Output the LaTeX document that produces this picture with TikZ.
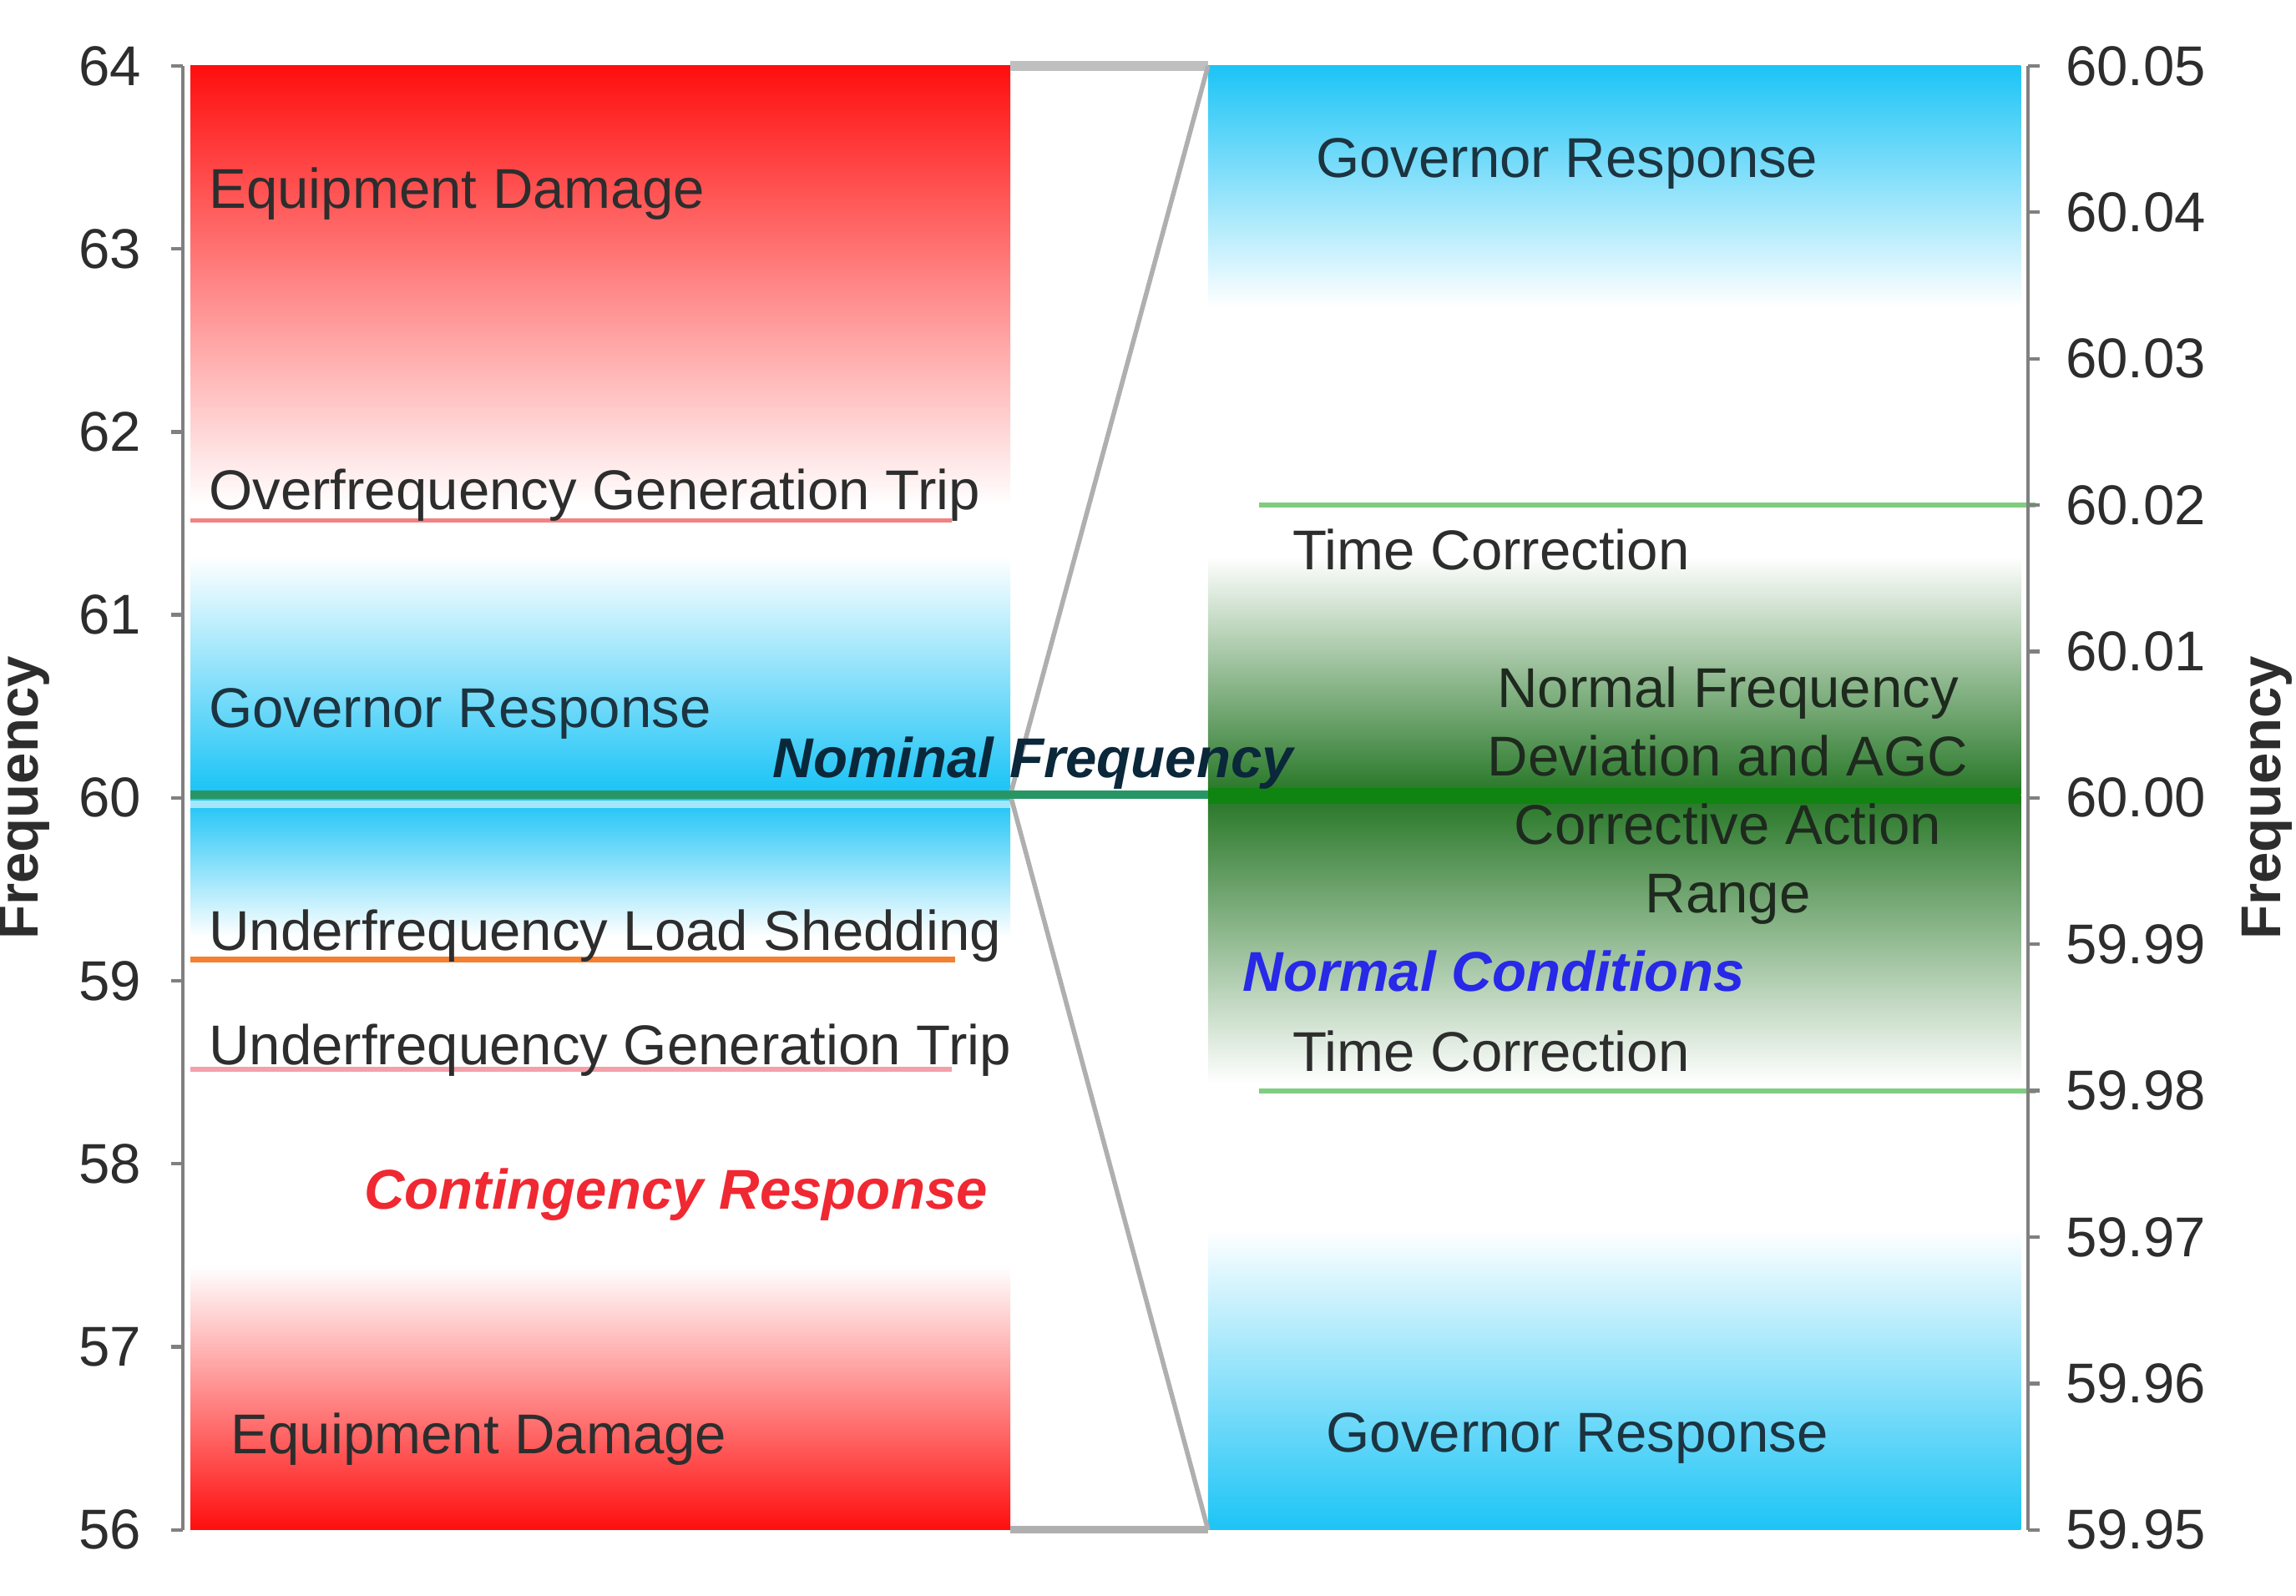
\documentclass[tikz,border=0pt]{standalone}
\usepackage{fontspec}
\setmainfont{Liberation Sans}

\definecolor{govblue}{RGB}{28,196,246}
\definecolor{dmgred}{RGB}{255,14,14}
\definecolor{agcgreen}{RGB}{38,118,38}
\definecolor{agcband}{RGB}{16,132,16}
\definecolor{agcmid}{RGB}{142,168,134}
\definecolor{nomgreen}{RGB}{40,150,100}
\definecolor{tcgreen}{RGB}{128,204,128}
\definecolor{ofred}{RGB}{242,130,130}
\definecolor{ufload}{RGB}{244,128,48}
\definecolor{ufgen}{RGB}{244,160,170}
\definecolor{txtgray}{RGB}{45,45,45}
\definecolor{govtxt}{RGB}{28,52,64}
\definecolor{axisgray}{RGB}{128,128,128}
\definecolor{zoomgray}{RGB}{175,175,175}

\begin{document}
\begin{tikzpicture}[
lbl/.style={anchor=base west, inner sep=0pt, text=txtgray, font=\fontsize{10.9}{13.3}\selectfont},
gov/.style={lbl, text=govtxt},
emph/.style={lbl, font=\fontsize{10.9}{13.3}\selectfont\bfseries\itshape},
ticklbl/.style={inner sep=0pt, text=txtgray, font=\fontsize{10.9}{13.3}\selectfont},
axislbl/.style={rotate=90, inner sep=0pt, text=txtgray, font=\fontsize{10.9}{13.3}\selectfont\bfseries},
axisline/.style={draw=axisgray, line width=0.7pt},
zoomline/.style={draw=zoomgray, line width=0.9pt}
]
\useasboundingbox (0,0) rectangle (15.68,10.90);
%Coordinates
\coordinate (ltop) at (6.90,10.45);
\coordinate (lbot) at (6.90,0.45);
\coordinate (lnom) at (6.90,5.47);
\coordinate (rtop) at (8.25,10.45);
\coordinate (rbot) at (8.25,0.45);
%Left bar
\shade[top color=dmgred, bottom color=white] (1.30,7.45) rectangle (ltop);
\shade[top color=white, bottom color=govblue] (1.30,5.50) rectangle (6.90,7.10);
\shade[top color=govblue, bottom color=white] (1.30,4.50) rectangle (6.90,5.44);
\fill[govblue!40] (1.30,5.38) rectangle (6.90,5.43);
\shade[top color=white, bottom color=dmgred] (lbot -| 1.30,0) rectangle (6.90,2.25);
%Right bar
\shade[top color=govblue, bottom color=white] (8.25,8.80) rectangle (13.80,10.45);
\shade[top color=white, middle color=agcmid, bottom color=agcgreen] (8.25,5.47) rectangle (13.80,7.10);
\shade[top color=agcgreen, middle color=agcmid, bottom color=white] (8.25,3.50) rectangle (13.80,5.47);
\shade[top color=white, bottom color=govblue] (rbot) rectangle (13.80,2.50);
%Lines
\draw[zoomgray!80, line width=2pt] (ltop) -- (rtop);
\draw[zoomgray, line width=1.4pt] (lbot) -- (rbot);
\draw[zoomline] (lnom) -- (rtop);
\draw[zoomline] (lnom) -- (rbot);
\draw[nomgreen, line width=1.6pt] (1.30,5.47) -- (13.80,5.47);
\fill[agcband] (8.25,5.41) rectangle (13.80,5.52);
\draw[ofred, line width=0.9pt] (1.30,7.345) -- (6.50,7.345);
\draw[ufload, line width=1.1pt] (1.30,4.345) -- (6.52,4.345);
\draw[ufgen, line width=0.9pt] (1.30,3.595) -- (6.50,3.595);
\draw[tcgreen, line width=1pt] (8.60,7.45) -- (13.90,7.45);
\draw[tcgreen, line width=1pt] (8.60,3.45) -- (13.90,3.45);
%Axes
\draw[axisline] (1.25,0.45) -- (1.25,10.45);
\draw[axisline] (13.85,0.45) -- (13.85,10.45);
\foreach \f in {56,...,64} {
  \draw[axisline] (1.17,{0.45+1.25*(\f-56)}) -- (1.25,{0.45+1.25*(\f-56)});
  \node[ticklbl, anchor=east] (fl\f) at (0.97,{0.45+1.25*(\f-56)}) {\f};
}
\foreach \v [count=\i from 0] in {59.95,59.96,59.97,59.98,59.99,60.00,60.01,60.02,60.03,60.04,60.05} {
  \draw[axisline] (13.85,{0.45+\i}) -- (13.93,{0.45+\i});
  \node[ticklbl, anchor=west] (fr\i) at (14.10,{0.45+\i}) {\v};
}
\node[axislbl] (freqleft) at (0.17,5.45) {Frequency};
\node[axislbl] (freqright) at (15.48,5.45) {Frequency};
%Nodes
\node[lbl] (dmgtop) at (1.42,9.48) {Equipment Damage};
\node[lbl] (oftrip) at (1.42,7.42) {Overfrequency Generation Trip};
\node[gov] (govleft) at (1.42,5.93) {Governor Response};
\node[emph, text={rgb,255:red,10;green,40;blue,58}] (nominal) at (5.27,5.59) {Nominal Frequency};
\node[lbl] (ufload) at (1.42,4.41) {Underfrequency Load Shedding};
\node[lbl] (ufgen) at (1.42,3.63) {Underfrequency Generation Trip};
\node[emph, text={rgb,255:red,240;green,40;blue,50}] (contingency) at (2.48,2.64) {Contingency Response};
\node[lbl] (dmgbot) at (1.57,0.97) {Equipment Damage};
\node[gov] (govtop) at (8.98,9.69) {Governor Response};
\node[lbl] (tcup) at (8.82,7.01) {Time Correction};
\node[inner sep=0pt, anchor=north, align=center, text={rgb,255:red,30;green,42;blue,30}, font=\fontsize{10.9}{13.3}\selectfont] (agc) at (11.80,6.35) {Normal Frequency\\Deviation and AGC\\Corrective Action\\Range};
\node[emph, text={rgb,255:red,40;green,40;blue,232}] (normal) at (8.48,4.13) {Normal Conditions};
\node[lbl] (tcdown) at (8.82,3.58) {Time Correction};
\node[gov] (govbot) at (9.05,0.98) {Governor Response};
\end{tikzpicture}
\end{document}
